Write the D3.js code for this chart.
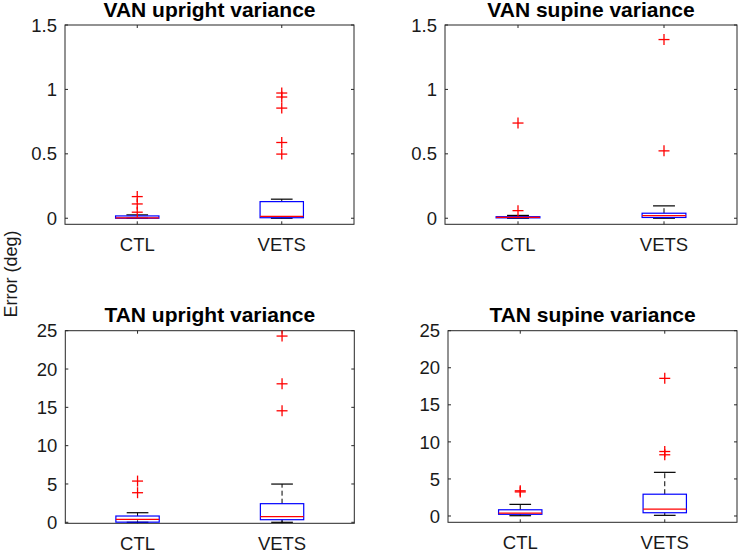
<!DOCTYPE html>
<html>
<head>
<meta charset="utf-8">
<script src="https://cdn.jsdelivr.net/npm/d3@7"></script>
<style>
  body { margin: 0; background: #fff; }
  svg { display: block; }
  text { font-family: "Liberation Sans", Arial, sans-serif; fill: #1a1a1a; }
</style>
</head>
<body>
<svg id="chart" width="739" height="552"></svg>
<script>
// ---- data ----
const categories = ["CTL", "VETS"];
const panelTitles = ["VAN upright variance", "VAN supine variance", "TAN upright variance", "TAN supine variance"];
const yTicksVAN = [0, 0.5, 1, 1.5];
const yTicksTAN = [0, 5, 10, 15, 20, 25];
const yLabel = "Error (deg)";

// box stats per category: [lowerWhisker, q1, median, q3, upperWhisker]
const vanUprightBox = [[0.000, 0.000, 0.003, 0.018, 0.026], [0.000, 0.004, 0.014, 0.129, 0.148]];
const vanUprightOutliers = [[0.047, 0.111, 0.168], [0.498, 0.588, 0.855, 0.941, 0.972]];

const vanSupineBox = [[0.000, 0.003, 0.006, 0.012, 0.022], [0.000, 0.006, 0.020, 0.039, 0.096]];
const vanSupineOutliers = [[0.059, 0.739], [0.523, 1.387]];

const tanUprightBox = [[0.00, 0.02, 0.39, 0.82, 1.25], [0.00, 0.34, 0.73, 2.43, 4.99]];
const tanUprightOutliers = [[3.86, 5.38], [14.55, 18.07, 24.3]];

const tanSupineBox = [[0.04, 0.23, 0.40, 0.84, 1.57], [0.09, 0.44, 0.94, 2.94, 5.89]];
const tanSupineOutliers = [[3.25, 3.40], [8.26, 8.70, 18.57]];

// ---- layout ----
const panels = [
  {title: panelTitles[0], box: vanUprightBox, out: vanUprightOutliers, ticks: yTicksVAN, yDom: [-0.047, 1.5], x0: 65, x1: 354, y0: 25, y1: 224.3},
  {title: panelTitles[1], box: vanSupineBox, out: vanSupineOutliers, ticks: yTicksVAN, yDom: [-0.047, 1.5], x0: 445, x1: 737, y0: 25, y1: 224.3},
  {title: panelTitles[2], box: tanUprightBox, out: tanUprightOutliers, ticks: yTicksTAN, yDom: [-0.13, 25], x0: 65.3, x1: 354.3, y0: 330.7, y1: 523.3},
  {title: panelTitles[3], box: tanSupineBox, out: tanSupineOutliers, ticks: yTicksTAN, yDom: [-0.85, 25], x0: 448, x1: 737, y0: 330.7, y1: 522.3}
];

const svg = d3.select("#chart");
const fmt = d => (d === 0 ? "0" : String(d));

panels.forEach(p => {
  const x = d3.scaleLinear().domain([0.5, 2.5]).range([p.x0, p.x1]);
  const y = d3.scaleLinear().domain(p.yDom).range([p.y1, p.y0]);
  const g = svg.append("g");
  const halfBox = (x(1.15) - x(1));
  const halfCap = halfBox / 2;

  // frame
  g.append("rect").attr("x", p.x0).attr("y", p.y0).attr("width", p.x1 - p.x0).attr("height", p.y1 - p.y0)
    .attr("fill", "none").attr("stroke", "#262626").attr("stroke-width", 1);

  // y ticks (inward, both sides) and labels
  p.ticks.forEach(t => {
    const yy = y(t);
    g.append("line").attr("x1", p.x0).attr("x2", p.x0 + 3).attr("y1", yy).attr("y2", yy).attr("stroke", "#262626");
    g.append("line").attr("x1", p.x1).attr("x2", p.x1 - 3).attr("y1", yy).attr("y2", yy).attr("stroke", "#262626");
    g.append("text").attr("x", p.x0 - 8).attr("y", yy).attr("dy", "0.36em").attr("text-anchor", "end")
      .style("font-size", "18.5px").text(fmt(t));
  });

  // x ticks and labels
  categories.forEach((c, i) => {
    const xx = x(i + 1);
    g.append("line").attr("x1", xx).attr("x2", xx).attr("y1", p.y1).attr("y2", p.y1 - 3).attr("stroke", "#262626");
    g.append("line").attr("x1", xx).attr("x2", xx).attr("y1", p.y0).attr("y2", p.y0 + 3).attr("stroke", "#262626");
    g.append("text").attr("x", xx).attr("y", p.y1 + 26.5).attr("text-anchor", "middle")
      .style("font-size", "18.5px").text(c);
  });

  // title
  g.append("text").attr("x", (p.x0 + p.x1) / 2).attr("y", p.y0 - 8.5).attr("text-anchor", "middle")
    .style("font-size", "21px").style("font-weight", "bold").style("fill", "#000").text(p.title);

  // boxes
  p.box.forEach((b, i) => {
    const xx = x(i + 1);
    const [lo, q1, med, q3, hi] = b;
    // whiskers (dashed)
    g.append("line").attr("x1", xx).attr("x2", xx).attr("y1", y(q3)).attr("y2", y(hi))
      .attr("stroke", "#000").attr("stroke-dasharray", "5,3");
    g.append("line").attr("x1", xx).attr("x2", xx).attr("y1", y(q1)).attr("y2", y(lo))
      .attr("stroke", "#000").attr("stroke-dasharray", "5,3");
    // caps
    [lo, hi].forEach(v => {
      g.append("line").attr("x1", xx - halfCap).attr("x2", xx + halfCap).attr("y1", y(v)).attr("y2", y(v))
        .attr("stroke", "#000").attr("stroke-width", 1.2);
    });
    // box
    g.append("rect").attr("x", xx - halfBox).attr("width", 2 * halfBox)
      .attr("y", y(q3)).attr("height", Math.max(0.5, y(q1) - y(q3)))
      .attr("fill", "none").attr("stroke", "#0000ff").attr("stroke-width", 1.2);
    // median
    g.append("line").attr("x1", xx - halfBox).attr("x2", xx + halfBox).attr("y1", y(med)).attr("y2", y(med))
      .attr("stroke", "#ff0000").attr("stroke-width", 1.2);
    // outliers
    p.out[i].forEach(v => {
      const yy = y(v);
      g.append("line").attr("x1", xx - 5.5).attr("x2", xx + 5.5).attr("y1", yy).attr("y2", yy)
        .attr("stroke", "#ff0000").attr("stroke-width", 1.3);
      g.append("line").attr("x1", xx).attr("x2", xx).attr("y1", yy - 5.5).attr("y2", yy + 5.5)
        .attr("stroke", "#ff0000").attr("stroke-width", 1.3);
    });
  });
});

// shared y label
svg.append("text").attr("transform", "translate(17,274) rotate(-90)").attr("text-anchor", "middle")
  .style("font-size", "18px").text(yLabel);
</script>
</body>
</html>
